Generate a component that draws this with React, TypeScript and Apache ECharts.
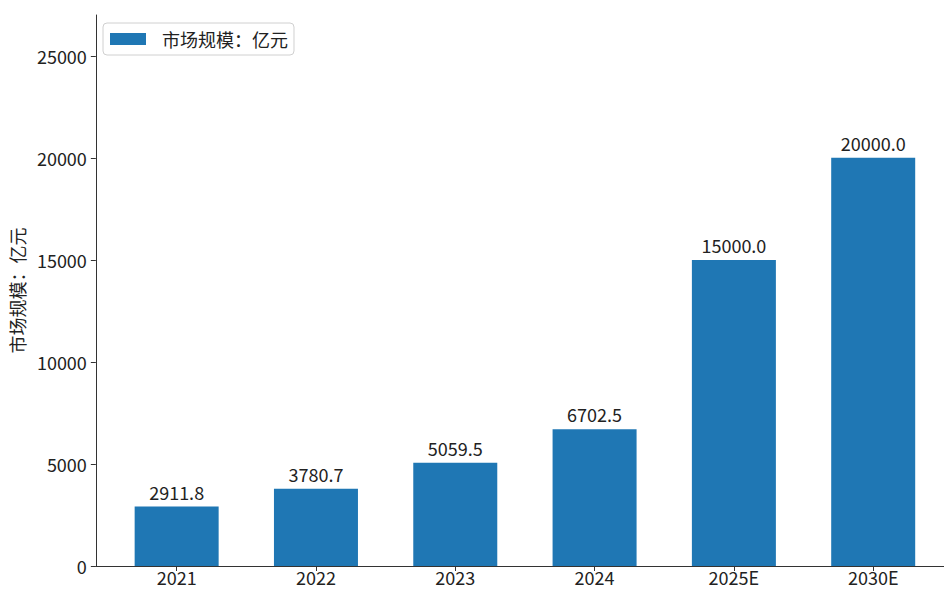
import React, { useEffect, useRef } from "react";
import * as echarts from "echarts";

const categories = ["2021", "2022", "2023", "2024", "2025E", "2030E"];
const marketSize = [2911.8, 3780.7, 5059.5, 6702.5, 15000.0, 20000.0];
const yTicks = [0, 5000, 10000, 15000, 20000, 25000];
const seriesName = "市场规模：亿元";
const yAxisName = "市场规模：亿元";

const FONT = "'Noto Sans CJK SC', 'Noto Sans', sans-serif";
const TEXT = "#222";
const FS = 18;

export default function App() {
  const ref = useRef<HTMLDivElement>(null);
  useEffect(() => {
    if (!ref.current) return;
    const chart = echarts.init(ref.current, undefined, { renderer: "svg" });
    const xIdx = categories.map((_, i) => i);
    chart.setOption({
      animation: false,
      backgroundColor: "#fff",
      textStyle: { fontFamily: FONT },
      grid: { left: 95, top: 15, bottom: 25, right: 0, containLabel: false },
      legend: {
        show: true,
        left: 103,
        top: 23,
        padding: [6, 6, 6, 7],
        borderColor: "#d0d0d0",
        borderWidth: 1,
        borderRadius: 4,
        itemWidth: 36,
        itemHeight: 12,
        icon: "rect",
        textStyle: { fontFamily: FONT, fontSize: FS, color: TEXT, padding: [0, 0, 0, 11], lineHeight: 20 },
        data: [seriesName],
      },
      xAxis: {
        type: "value",
        min: -0.58,
        max: 5.58,
        splitLine: { show: false },
        axisLine: { show: true, onZero: false, lineStyle: { color: "#333", width: 1 } },
        axisTick: { show: true, inside: false, length: 5, customValues: xIdx, lineStyle: { color: "#333" } },
        axisLabel: {
          customValues: xIdx,
          margin: 2,
          lineHeight: 18,
          fontFamily: FONT,
          fontSize: FS,
          color: TEXT,
          formatter: (v: number) => categories[Math.round(v)] ?? "",
        },
      },
      yAxis: {
        type: "value",
        min: 0,
        max: 27000,
        name: yAxisName,
        nameLocation: "middle",
        nameRotate: 90,
        nameGap: 66,
        nameTextStyle: { fontFamily: FONT, fontSize: FS, color: TEXT },
        splitLine: { show: false },
        axisLine: { show: true, onZero: false, lineStyle: { color: "#333", width: 1 } },
        axisTick: { show: true, inside: false, length: 5, customValues: yTicks, lineStyle: { color: "#333" } },
        axisLabel: {
          customValues: yTicks,
          margin: 9,
          fontFamily: FONT,
          fontSize: FS,
          color: TEXT,
          formatter: (v: number) => String(v),
        },
      },
      series: [
        {
          name: seriesName,
          type: "bar",
          barWidth: 84,
          itemStyle: { color: "#1f77b4" },
          data: categories.map((_, i) => [i, marketSize[i]]),
          label: {
            show: true,
            position: "top",
            distance: 6,
            fontFamily: FONT,
            fontSize: FS,
            color: TEXT,
            formatter: (p: any) => Number(p.value[1]).toFixed(1),
          },
        },
      ],
    });
    return () => chart.dispose();
  }, []);
  return (
    <div style={{ position: "fixed", left: 0, top: 0, width: 944, height: 591, overflow: "hidden", background: "#fff" }}>
      <div ref={ref} style={{ width: 954, height: 591 }} />
    </div>
  );
}
